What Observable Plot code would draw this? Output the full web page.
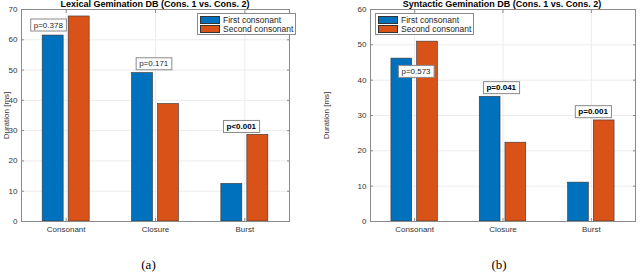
<!DOCTYPE html>
<html><head><meta charset="utf-8">
<script src="https://cdn.jsdelivr.net/npm/d3@7"></script>
<script src="https://cdn.jsdelivr.net/npm/@observablehq/plot@0.6"></script>
<style>
html,body{margin:0;padding:0;background:#fff;}
#wrap{position:relative;width:640px;height:274px;display:flex;font-family:"Liberation Sans",Arial,sans-serif;}
.panel{position:relative;width:320px;height:274px;}
.title{position:absolute;top:-1px;font-weight:bold;font-size:9px;line-height:10px;color:#000;white-space:nowrap;transform:translateX(-50%);}
.legend{position:absolute;border:1px solid #8a8a8a;background:#fff;font-size:8.5px;color:#262626;padding:1px 2px 1px 2px;}
.legend div{display:flex;align-items:center;height:9px;}
.legend span.sw{display:inline-block;width:18px;height:6px;border:0.5px solid #333;margin-right:3px;}
.cap{position:absolute;top:257px;font-family:"Liberation Serif","DejaVu Serif",serif;font-size:13px;transform:translateX(-50%);color:#000;}
</style>
</head><body>
<div id="wrap"></div>
<script>
const categories = ["Consonant", "Closure", "Burst"];
const seriesNames = ["First consonant", "Second consonant"];
const lexFirst = [61.4, 49.0, 12.4];
const lexSecond = [67.7, 38.8, 28.6];
const synFirst = [46.1, 35.3, 11.0];
const synSecond = [50.9, 22.3, 28.6];
const lexPText = ["p=0.378", "p=0.171", "p<0.001"];
const lexPX = [0.8, 1.98, 2.96];
const lexPY = [64.9, 52.1, 31.4];
const lexPBold = [false, false, true];
const synPText = ["p=0.573", "p=0.041", "p=0.001"];
const synPX = [1.015, 1.98, 3.02];
const synPY = [42.5, 37.9, 31.1];
const synPBold = [false, true, true];
const lexYTicks = [0, 10, 20, 30, 40, 50, 60, 70];
const synYTicks = [0, 10, 20, 30, 40, 50, 60];
const xTicks = [1, 2, 3];

const colors = ["#0072BD", "#D95319"];
const barW = 0.235, gap = 0.056;

function chart({first, second, pText, pX, pY, pBold, yMax, yTicks, marginLeft, marginRight}) {
  const bars = [];
  categories.forEach((c, i) => {
    bars.push({cat: c, s: 0, x1: i + 1 - gap / 2 - barW, x2: i + 1 - gap / 2, v: first[i]});
    bars.push({cat: c, s: 1, x1: i + 1 + gap / 2, x2: i + 1 + gap / 2 + barW, v: second[i]});
  });
  const labels = pText.map((t, i) => ({t, x: pX[i], y: pY[i], b: pBold[i]}));
  const tickStyle = {stroke: "#8a8a8a", tickSize: -3, tickFormat: () => "", label: null};
  return Plot.plot({
    width: 320, height: 240,
    marginLeft, marginRight, marginTop: 9, marginBottom: 19,
    style: {fontFamily: "Liberation Sans, Arial, sans-serif", fontSize: "8px", color: "#333", background: "#fff"},
    x: {domain: [0.5, 3.5], axis: null},
    y: {domain: [0, yMax], axis: null},
    marks: [
      Plot.ruleY(yTicks.slice(1, -1), {stroke: "#ececec", strokeWidth: 1}),
      Plot.ruleX(xTicks, {stroke: "#ececec", strokeWidth: 1}),
      Plot.rectY(bars, {x1: "x1", x2: "x2", y1: 0, y2: "v", fill: d => colors[d.s], stroke: "#333", strokeWidth: 0.6}),
      Plot.axisY({anchor: "left", ticks: yTicks, tickSize: 0, tickPadding: 4, label: "Duration [ms]", labelAnchor: "center", labelArrow: "none", labelOffset: marginLeft - 3, fontSize: 8}),
      Plot.axisY({anchor: "left", ticks: yTicks, ...tickStyle}),
      Plot.axisY({anchor: "right", ticks: yTicks, ...tickStyle}),
      Plot.axisX({anchor: "top", ticks: xTicks, ...tickStyle}),
      Plot.axisX({anchor: "bottom", ticks: xTicks, tickFormat: d => categories[d - 1], tickSize: 0, tickPadding: 5, label: null, fontSize: 8}),
      Plot.axisX({anchor: "bottom", ticks: xTicks, ...tickStyle}),
      Plot.frame({stroke: "#8a8a8a", strokeWidth: 1}),
      Plot.text(labels.filter(d => !d.b), {x: "x", y: "y", text: "t", fill: "#262626", fontSize: 8}),
      Plot.text(labels.filter(d => d.b), {x: "x", y: "y", text: "t", fill: "#000", fontSize: 8, fontWeight: "bold"})
    ]
  });
}

const wrap = document.getElementById("wrap");
const specs = [
  {first: lexFirst, second: lexSecond, pText: lexPText, pX: lexPX, pY: lexPY, pBold: lexPBold, yMax: 70, yTicks: lexYTicks, marginLeft: 21, marginRight: 31,
   title: "Lexical Gemination DB (Cons. 1 vs. Cons. 2)", titleX: 155, legX: 197, cap: "(a)", capX: 148.5},
  {first: synFirst, second: synSecond, pText: synPText, pX: synPX, pY: synPY, pBold: synPBold, yMax: 60, yTicks: synYTicks, marginLeft: 50, marginRight: 5,
   title: "Syntactic Gemination DB (Cons. 1 vs. Cons. 2)", titleX: 182, legX: 55, cap: "(b)", capX: 179}
];
specs.forEach(sp => {
  const panel = document.createElement("div");
  panel.className = "panel";
  wrap.appendChild(panel);
  const svg = chart(sp);
  panel.appendChild(svg);
  // boxes around p-value labels
  svg.querySelectorAll('g[aria-label="text"] text').forEach(t => {
    const bb = t.getBBox();
    const r = document.createElementNS("http://www.w3.org/2000/svg", "rect");
    r.setAttribute("x", bb.x - 3);
    r.setAttribute("y", bb.y - 1.5);
    r.setAttribute("width", bb.width + 6);
    r.setAttribute("height", bb.height + 3);
    r.setAttribute("fill", "#fff");
    r.setAttribute("stroke", "#8a8a8a");
    r.setAttribute("stroke-width", "1");
    if (t.getAttribute("transform")) r.setAttribute("transform", t.getAttribute("transform"));
    t.parentNode.insertBefore(r, t);
  });
  const title = document.createElement("div");
  title.className = "title";
  title.style.left = sp.titleX + "px";
  title.textContent = sp.title;
  panel.appendChild(title);
  const leg = document.createElement("div");
  leg.className = "legend";
  leg.style.left = sp.legX + "px";
  leg.style.top = "13px";
  seriesNames.forEach((n, i) => {
    const row = document.createElement("div");
    const sw = document.createElement("span");
    sw.className = "sw"; sw.style.background = colors[i];
    row.appendChild(sw);
    row.appendChild(document.createTextNode(n));
    leg.appendChild(row);
  });
  panel.appendChild(leg);
  const cap = document.createElement("div");
  cap.className = "cap";
  cap.style.left = sp.capX + "px";
  cap.textContent = sp.cap;
  panel.appendChild(cap);
});
</script>
</body></html>
